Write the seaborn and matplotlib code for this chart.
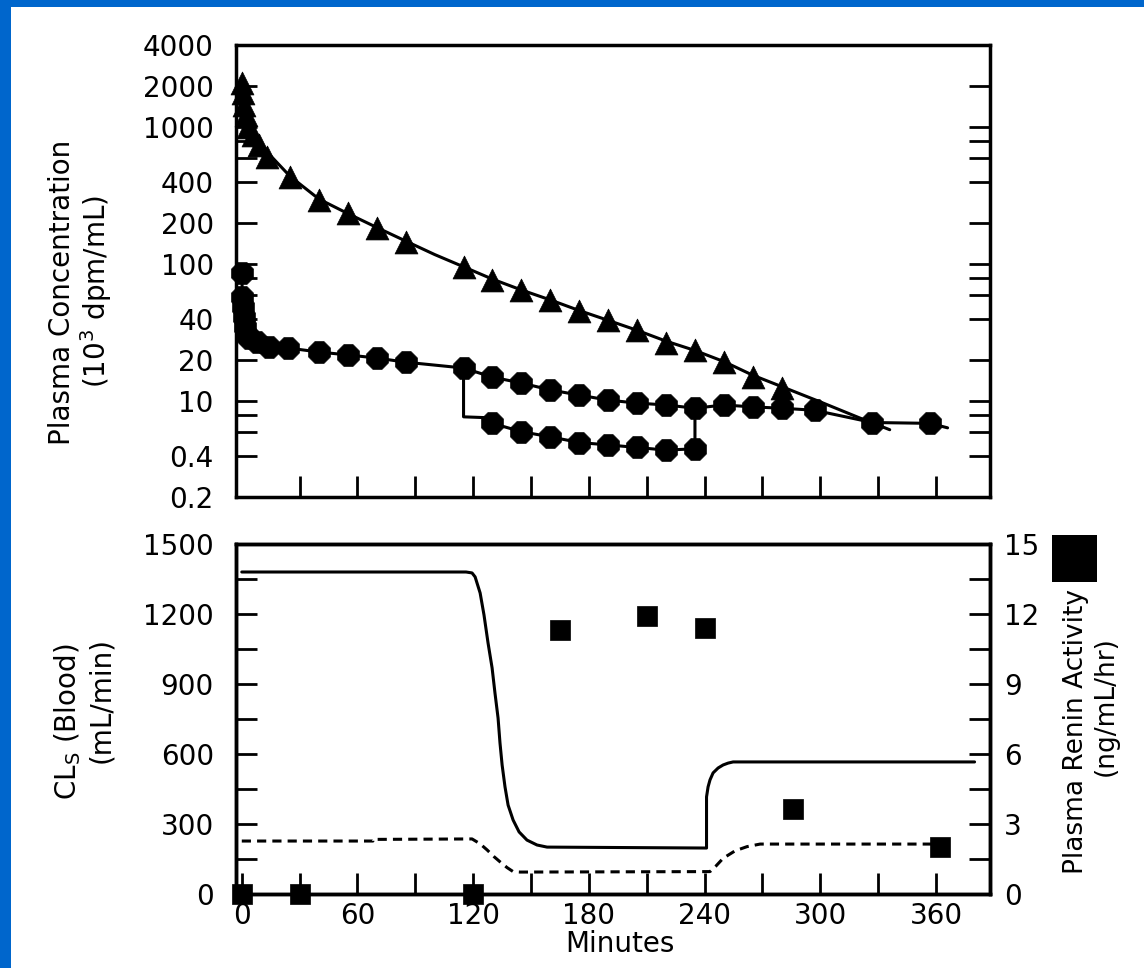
import numpy as np
import pandas as pd
import matplotlib
matplotlib.use("Agg")
import matplotlib.pyplot as plt
import seaborn as sns
from matplotlib.patches import Rectangle
from matplotlib.ticker import FixedLocator, FixedFormatter, NullFormatter

# ---------------- data ----------------
# top panel: triangles (plasma concentration, 10^3 dpm/mL)
tri_t = [0, 0.5, 1, 2, 3, 6, 9, 13, 25, 40, 55, 70, 85,
         115, 130, 145, 160, 175, 190, 205, 220, 235, 250, 265, 280]
tri_v = [2110, 1780, 1460, 1230, 1010, 880, 745, 610, 434, 295, 237, 184, 146,
         95.6, 77, 65, 55, 46, 39, 33, 26.6, 23.6, 19.3, 15.0, 12.5]
# fitted curve through the triangles
tri_line_t = [0, 1, 2, 4, 7, 10, 15, 25, 40, 55, 70, 85, 100, 115, 130, 145,
              160, 175, 190, 205, 220, 235, 250, 265, 280, 300, 320, 336]
tri_line_v = [2250, 1650, 1350, 1100, 880, 760, 620, 440, 300, 235, 186, 148,
              118, 96, 78, 65, 55, 46, 39, 33, 27.5, 23.5, 19.5, 15.5, 12.8,
              9.9, 7.6, 6.2]

# top panel: circles, main branch
circ_t = [0, 0.3, 0.6, 1, 1.5, 2.5, 4, 8, 14, 24, 40, 55, 70, 85,
          115, 130, 145, 160, 175, 190, 205, 220, 235, 250, 265, 280, 297, 327, 357]
circ_v = [86.5, 57.7, 48.8, 41.2, 34.8, 30.5, 29.0, 27.1, 24.9, 24.5, 22.9, 21.8,
          20.7, 19.3, 17.5, 15.0, 13.6, 12.1, 11.1, 10.2, 9.7, 9.4, 8.9, 9.4, 9.1,
          8.9, 8.6, 7.0, 6.9]
circ_line_t = circ_t + [366]
circ_line_v = circ_v + [6.4]

# top panel: circles, lower branch (120-240 min)
low_t = [130, 145, 160, 175, 190, 205, 220, 235]
low_v = [6.9, 6.0, 5.5, 5.0, 4.8, 4.6, 4.4, 4.5]
low_line_t = [115, 115, 126, 130, 145, 160, 175, 190, 205, 220, 235, 235]
low_line_v = [17.5, 7.7, 7.6, 6.9, 6.0, 5.5, 5.0, 4.8, 4.6, 4.4, 4.5, 8.9]

# bottom panel: clearance curves (mL/min)
cl_solid_t = [0, 116.3, 119.4, 121.0, 123.6, 125.6, 127.7, 129.8, 131.3, 132.9,
              133.9, 135.0, 136.5, 138.1, 140.7, 143.8, 147.9, 153.1, 158.3, 241,
              241, 241.8, 242.8, 244.4, 247, 249.6, 252.2, 254.8, 380]
cl_solid_v = [1380, 1380, 1376, 1359, 1290, 1196, 1076, 969, 861, 754,
              647, 553, 459, 381, 317, 266, 231, 210, 201, 197,
              416, 459, 489, 519, 540, 553, 561, 566, 566]
cl_dash_t = [0, 68, 68, 119.4, 123.6, 127.2, 130.8, 133.9, 137.6, 140.7, 144.3,
             242.8, 245.9, 249.6, 255.8, 262, 268.8, 359]
cl_dash_v = [227, 227, 234, 236, 215, 189, 160, 138, 113, 96, 94,
             96, 120, 153, 185, 203, 214, 214]

# bottom panel: plasma renin activity (ng/mL/hr)
pra_t = [0, 30, 120, 165, 210, 240, 286, 362]
pra_v = [0, 0, 0, 11.3, 11.9, 11.4, 3.64, 2.0]

top_major = [2, 4, 10, 20, 40, 100, 200, 400, 1000, 2000, 4000]
top_labels = ["0.2", "0.4", "10", "20", "40", "100", "200", "400", "1000", "2000", "4000"]
top_minor = [6, 8, 60, 80, 600, 800]

# ---------------- style ----------------
sns.set_style("ticks")
plt.rcParams["font.family"] = ["DejaVu Sans"]
plt.rcParams["mathtext.fontset"] = "dejavusans"
for k in ("text.color", "axes.labelcolor", "xtick.color", "ytick.color",
          "axes.edgecolor"):
    plt.rcParams[k] = "black"

W, H = 1144, 968
fig = plt.figure(figsize=(W / 100, H / 100), dpi=100)
fig.patch.set_facecolor("white")


def rect(l, t, r, b):
    return [l / W, 1 - b / H, (r - l) / W, (b - t) / H]


FS = 20
LW = 2.2

ax1 = fig.add_axes(rect(236, 45, 990, 497))
ax2 = fig.add_axes(rect(236, 544, 990, 894))
ax3 = ax2.twinx()

# ---------------- top panel ----------------
for lt, lv in ((tri_line_t, tri_line_v), (circ_line_t, circ_line_v),
               (low_line_t, low_line_v)):
    sns.lineplot(x=lt, y=lv, ax=ax1, color="black", lw=LW,
                 sort=False, estimator=None)
sns.scatterplot(x=tri_t, y=tri_v, ax=ax1, marker="^", s=16.5 ** 2, color="black",
                edgecolor="black", linewidth=0.5, zorder=4)
sns.scatterplot(x=circ_t, y=circ_v, ax=ax1, marker="8", s=17 ** 2, color="black",
                edgecolor="black", linewidth=0.5, zorder=4)
sns.scatterplot(x=low_t, y=low_v, ax=ax1, marker="8", s=17 ** 2, color="black",
                edgecolor="black", linewidth=0.5, zorder=4)
for c in ax1.collections:
    c.set_clip_on(False)

ax1.set_yscale("log")
ax1.set_ylim(2, 4000)
ax1.set_xlim(-3, 388)
ax1.yaxis.set_major_locator(FixedLocator(top_major))
ax1.yaxis.set_major_formatter(FixedFormatter(top_labels))
ax1.yaxis.set_minor_locator(FixedLocator(top_minor))
ax1.yaxis.set_minor_formatter(NullFormatter())
ax1.xaxis.set_major_locator(FixedLocator(list(range(30, 361, 30))))
ax1.xaxis.set_minor_locator(FixedLocator([]))
ax1.tick_params(axis="y", which="both", direction="in", length=15, width=2,
                left=True, right=True, labelsize=FS, pad=16, colors="black")
ax1.tick_params(axis="x", which="both", direction="in", length=15, width=2,
                bottom=True, top=False, labelbottom=False, colors="black")
ax1.set_xlabel("")
ax1.set_ylabel("")
ax1.text(880, 88, "Dog 2", transform=None, fontsize=FS, ha="center",
         va="center", color="black")

# ---------------- bottom panel ----------------
sns.lineplot(x=cl_solid_t, y=cl_solid_v, ax=ax2, color="black", lw=LW,
             sort=False, estimator=None)
sns.lineplot(x=cl_dash_t, y=cl_dash_v, ax=ax2, color="black", lw=LW,
             sort=False, estimator=None)
ax2.lines[-1].set_dashes([3, 2])
ax2.set_xlim(-3, 388)
ax2.set_ylim(0, 1500)
ax2.yaxis.set_major_locator(FixedLocator(list(range(0, 1501, 300))))
ax2.yaxis.set_minor_locator(FixedLocator(list(range(150, 1500, 300))))
ax2.xaxis.set_major_locator(FixedLocator(list(range(0, 361, 60))))
ax2.xaxis.set_minor_locator(FixedLocator(list(range(30, 361, 60))))
ax2.yaxis.set_minor_formatter(NullFormatter())
ax2.xaxis.set_minor_formatter(NullFormatter())
ax2.tick_params(axis="y", which="both", direction="in", length=15, width=2,
                left=True, right=False, labelsize=FS, pad=16, colors="black")
ax2.tick_params(axis="x", which="both", direction="in", length=15, width=2,
                bottom=True, top=False, labelsize=FS, pad=6, colors="black")
ax2.set_xlabel("")
ax2.set_ylabel("")

sns.scatterplot(x=pra_t, y=pra_v, ax=ax3, marker="s", s=14 ** 2, color="black",
                edgecolor="black", linewidth=0.5, zorder=4)
ax3.collections[-1].set_clip_on(False)
ax3.set_ylim(0, 15)
ax3.yaxis.set_major_locator(FixedLocator(list(range(0, 16, 3))))
ax3.yaxis.set_minor_locator(FixedLocator([1.5, 4.5, 7.5, 10.5, 13.5]))
ax3.yaxis.set_minor_formatter(NullFormatter())
ax3.tick_params(axis="y", which="both", direction="in", length=15, width=2,
                right=True, left=False, labelsize=FS, pad=10, colors="black")
ax3.set_ylabel("")
ax3.set_xlabel("")

for ax in (ax1, ax2, ax3):
    for sp in ax.spines.values():
        sp.set_visible(True)
        sp.set_linewidth(2.5)
        sp.set_color("black")

# ---------------- labels ----------------
def ftext(x, y, s, size=FS, **kw):
    fig.text(x / W, 1 - y / H, s, fontsize=size, ha="center", va="center",
             color="black", **kw)


ftext(62, 292, "Plasma Concentration", rotation=90)
ftext(96, 292, r"(10$^{3}$ dpm/mL)", rotation=90)
ftext(68, 722, r"CL$_{\mathrm{S}}$ (Blood)", rotation=90)
ftext(101, 700, "(mL/min)", rotation=90)
ftext(1076, 731, "Plasma Renin Activity", size=19, rotation=90)
ftext(1106, 706, "(ng/mL/hr)", size=19, rotation=90)
ftext(620, 944, "Minutes")

# legend symbol for renin squares
fig.add_artist(Rectangle((1052 / W, 1 - 582 / H), 45 / W, 47 / H,
                         transform=fig.transFigure, facecolor="black",
                         edgecolor="none"))

# blue frame edges
blue = "#0066CC"
fig.add_artist(Rectangle((0, 0), 11 / W, 1, transform=fig.transFigure,
                         facecolor=blue, edgecolor="none", zorder=10))
fig.add_artist(Rectangle((0, 1 - 6.5 / H), 1, 6.5 / H, transform=fig.transFigure,
                         facecolor=blue, edgecolor="none", zorder=10))

fig.savefig("out.png", dpi=100)
